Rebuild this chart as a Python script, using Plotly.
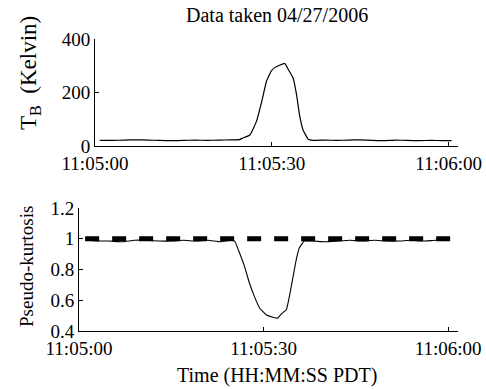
import pandas as pd
import plotly.graph_objects as go

# ---- data (seconds after 11:05:00 PDT) ----
tb_sec = [0.8, 3, 5, 7, 9, 11, 13, 15, 17, 19, 21, 23, 24.5, 25.1, 26.3, 27.4, 28.3, 29.1,
          29.9, 30.5, 31.4, 32.2, 32.8, 33.6, 34.2, 34.7, 35.3, 36.2, 37.0, 39, 41, 43, 45,
          47, 49, 51, 53, 55, 57, 59, 60.5]
tb_kelvin = [21, 21, 22, 23, 22, 21, 20, 21, 22, 21, 22, 23, 24, 30, 41, 92, 167, 242,
             280, 293, 303, 309, 286, 255, 192, 117, 60, 25, 21, 22, 21, 22, 23, 21,
             20, 22, 21, 20, 21, 20, 20]

pk_sec = [1.0, 3, 5, 7, 9, 11, 13, 15, 17, 19, 21, 23, 24.5, 25.3, 26.1, 26.9, 27.7, 28.5,
          29.35, 30.4, 31.5, 32.3, 32.9, 33.7, 34.2, 34.8, 35.3, 35.8, 36.6, 38, 40, 42,
          44, 46, 48, 50, 52, 54, 56, 58, 60.3]
pk_vals = [0.99, 0.985, 0.985, 0.98, 0.99, 0.99, 0.985, 0.985, 0.99, 0.985, 0.99, 0.98,
           0.99, 0.985, 0.907, 0.82, 0.712, 0.625, 0.55, 0.506, 0.49, 0.484, 0.512,
           0.538, 0.625, 0.755, 0.863, 0.94, 0.985, 0.985, 0.98, 0.985, 0.99, 0.985,
           0.99, 0.985, 0.985, 0.99, 0.985, 0.99, 0.99]

ref_sec = [1.0, 60.4]
ref_vals = [1.0, 1.0]

x_tick_sec = [0, 30, 60]
x_tick_text = ["11:05:00", "11:05:30", "11:06:00"]
tb_ticks = [0, 200, 400]
tb_tick_text = ["0", "200", "400"]
pk_ticks = [0.4, 0.6, 0.8, 1.0, 1.2]
pk_tick_text = ["0.4", "0.6", "0.8", "1", "1.2"]

base = pd.Timestamp("2006-04-27 11:05:00")
def to_t(secs):
    return [base + pd.Timedelta(seconds=s) for s in secs]

FONT = "Liberation Serif"
fig = go.Figure()
fig.add_trace(go.Scatter(x=to_t(tb_sec), y=tb_kelvin, mode="lines",
                         line=dict(color="black", width=1.2, shape="spline", smoothing=0.3),
                         xaxis="x", yaxis="y", showlegend=False))
fig.add_trace(go.Scatter(x=to_t(pk_sec), y=pk_vals, mode="lines",
                         line=dict(color="black", width=1.1, shape="spline", smoothing=0.3),
                         xaxis="x2", yaxis="y2", showlegend=False))
fig.add_trace(go.Scatter(x=to_t(ref_sec), y=ref_vals, mode="lines",
                         line=dict(color="black", width=5, dash="14px,13px"),
                         xaxis="x2", yaxis="y2", showlegend=False))

xr = [base, base + pd.Timedelta(seconds=61.6)]
common_axis = dict(showline=True, linecolor="black", linewidth=1, ticks="inside",
                   ticklen=4, tickcolor="black", tickwidth=1, showgrid=False,
                   zeroline=False, tickfont=dict(family=FONT, size=19, color="black"),
                   automargin=False)

def ann(text, x, y, size=20, angle=0):
    return dict(text=text, x=x/486, y=1-y/389, xref="paper", yref="paper",
                xanchor="center", yanchor="middle", textangle=angle,
                showarrow=False, font=dict(family=FONT, size=size, color="black"))

fig.update_layout(
    width=486, height=389, margin=dict(l=0, r=0, t=0, b=0),
    paper_bgcolor="white", plot_bgcolor="white",
    xaxis=dict(domain=[95/486, 458/486], anchor="y", type="date", range=xr,
               tickvals=to_t(x_tick_sec), ticktext=x_tick_text, **common_axis),
    yaxis=dict(domain=[1-146/389, 1-39/389], anchor="x", range=[0, 400],
               tickvals=tb_ticks, ticktext=tb_tick_text, **common_axis),
    xaxis2=dict(domain=[79/486, 458/486], anchor="y2", type="date", range=xr,
                tickvals=to_t(x_tick_sec), ticktext=x_tick_text, **common_axis),
    yaxis2=dict(domain=[1-331/389, 1-208/389], anchor="x2", range=[0.4, 1.2],
                tickvals=pk_ticks, ticktext=pk_tick_text, **common_axis),
    annotations=[
        ann("Data taken 04/27/2006", 277, 15),
        ann("Time (HH:MM:SS PDT)", 277, 375),
        ann("T<sub>B</sub>  (Kelvin)", 30, 73, size=23, angle=-90),
        ann("Pseudo-kurtosis", 26, 267, size=19, angle=-90),
    ],
)

fig.write_html("out.html")
